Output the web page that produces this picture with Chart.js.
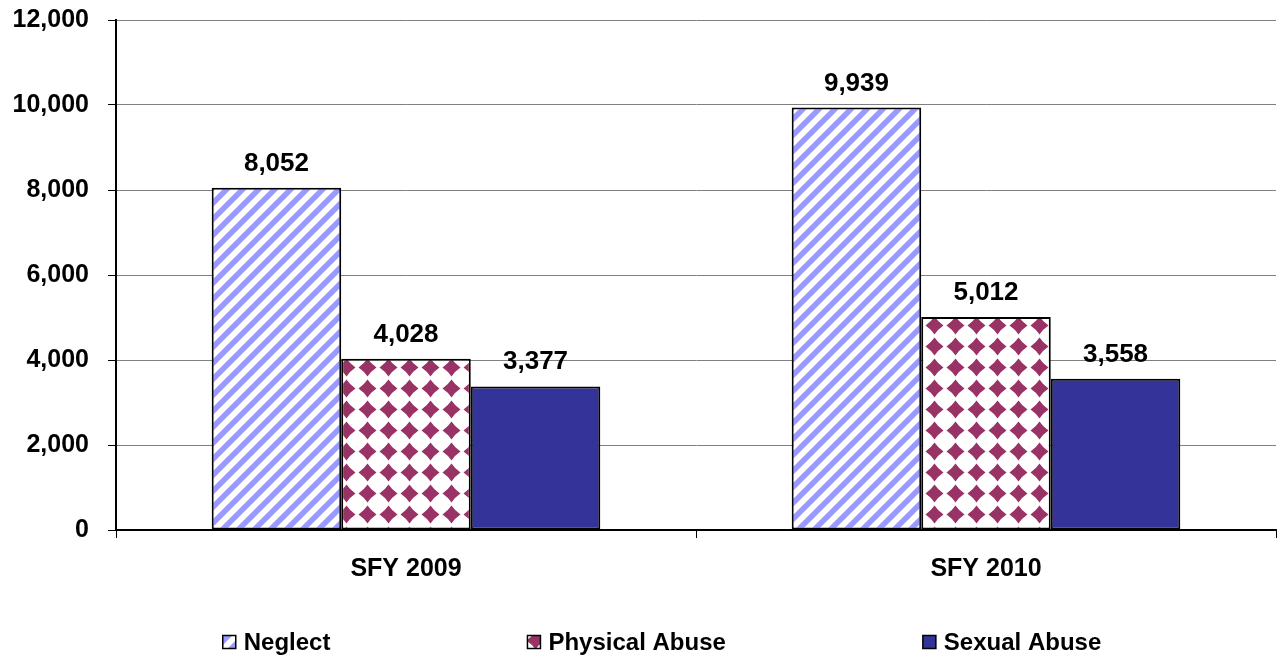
<!DOCTYPE html>
<html>
<head>
<meta charset="utf-8">
<script src="https://cdn.jsdelivr.net/npm/chart.js@4.4.1/dist/chart.umd.min.js"></script>
<style>
  html, body { margin: 0; padding: 0; background: #fff; }
  #wrap { width: 1278px; height: 658px; }
</style>
</head>
<body>
<div id="wrap"><canvas id="chart"></canvas></div>
<script>
const years = ['SFY 2009', 'SFY 2010'];
const neglect = [8052, 9939];
const physicalAbuse = [4028, 5012];
const sexualAbuse = [3377, 3558];
const yTicks = [0, 2000, 4000, 6000, 8000, 10000, 12000];

const FONT = '"Liberation Sans", Arial, sans-serif';

// diagonal blue stripes on white
function stripes() {
  const c = document.createElement('canvas');
  c.width = 16; c.height = 16;
  const g = c.getContext('2d');
  g.fillStyle = '#fff';
  g.fillRect(0, 0, 16, 16);
  g.strokeStyle = '#9999ff';
  g.lineWidth = 5.5;
  g.beginPath();
  g.moveTo(-4, 20); g.lineTo(20, -4);
  g.moveTo(-4, 4); g.lineTo(4, -4);
  g.moveTo(12, 20); g.lineTo(20, 12);
  g.stroke();
  return g.createPattern(c, 'repeat');
}

// maroon diamonds on white
function diamonds() {
  const s = 21, m = s / 2, r = 9, k = 3.6;
  const c = document.createElement('canvas');
  c.width = s; c.height = s;
  const g = c.getContext('2d');
  g.fillStyle = '#fff';
  g.fillRect(0, 0, s, s);
  g.fillStyle = '#993366';
  g.beginPath();
  g.moveTo(m, m - r);
  g.quadraticCurveTo(m + k, m - k, m + r, m);
  g.quadraticCurveTo(m + k, m + k, m, m + r);
  g.quadraticCurveTo(m - k, m + k, m - r, m);
  g.quadraticCurveTo(m - k, m - k, m, m - r);
  g.fill();
  return g.createPattern(c, 'repeat');
}

const valueLabels = {
  id: 'valueLabels',
  afterDatasetsDraw(chart) {
    const ctx = chart.ctx;
    ctx.save();
    ctx.font = 'bold 26px ' + FONT;
    ctx.fillStyle = '#000';
    ctx.textAlign = 'center';
    ctx.textBaseline = 'alphabetic';
    chart.data.datasets.forEach((ds, i) => {
      chart.getDatasetMeta(i).data.forEach((bar, j) => {
        ctx.fillText(ds.data[j].toLocaleString('en-US'), bar.x, bar.y - 17);
      });
    });
    ctx.restore();
  }
};

// legend spread wide like the original
const wideLegend = {
  id: 'wideLegend',
  afterDraw(chart) {
    const ctx = chart.ctx;
    const box = 13, gap = 8, spacing = 197, y = 642;
    ctx.save();
    ctx.font = 'bold 24px ' + FONT;
    const items = chart.data.datasets.map(ds => ({
      ds, w: ctx.measureText(ds.label).width
    }));
    const total = items.reduce((a, it) => a + box + gap + it.w, 0) + spacing * (items.length - 1);
    let x = chart.width / 2 - total / 2 + 23;
    ctx.textBaseline = 'middle';
    items.forEach(it => {
      ctx.fillStyle = it.ds.backgroundColor;
      ctx.fillRect(x, y - box / 2, box, box);
      ctx.strokeStyle = '#000';
      ctx.lineWidth = 1.5;
      ctx.strokeRect(x, y - box / 2, box, box);
      ctx.fillStyle = '#000';
      ctx.fillText(it.ds.label, x + box + gap, y + 1);
      x += box + gap + it.w + spacing;
    });
    ctx.restore();
  }
};

new Chart(document.getElementById('chart'), {
  type: 'bar',
  data: {
    labels: years,
    datasets: [
      { label: 'Neglect', data: neglect, backgroundColor: stripes() },
      { label: 'Physical Abuse', data: physicalAbuse, backgroundColor: diamonds() },
      { label: 'Sexual Abuse', data: sexualAbuse, backgroundColor: '#333399' }
    ]
  },
  options: {
    responsive: true,
    maintainAspectRatio: false,
    animation: false,
    devicePixelRatio: 1,
    layout: { padding: { top: 20, right: 2, bottom: 70, left: 0 } },
    datasets: {
      bar: {
        borderColor: '#000',
        borderWidth: 2,
        borderSkipped: false,
        categoryPercentage: 0.67,
        barPercentage: 1
      }
    },
    plugins: {
      legend: { display: false },
      tooltip: { enabled: false }
    },
    scales: {
      x: {
        grid: { drawOnChartArea: false, tickLength: 8, tickColor: '#000', offset: true },
        border: { color: '#000', width: 2 },
        ticks: { color: '#000', padding: 16, font: { family: FONT, size: 25, weight: 'bold' } },
        afterFit(scale) { scale.height = 58; }
      },
      y: {
        min: 0,
        max: 12000,
        afterBuildTicks(scale) { scale.ticks = yTicks.map(v => ({ value: v })); },
        grid: { color: '#808080', lineWidth: 1, tickLength: 8, tickColor: '#000' },
        border: { color: '#000', width: 2 },
        ticks: {
          color: '#000',
          padding: 19,
          font: { family: FONT, size: 25, weight: 'bold' },
          callback: v => v.toLocaleString('en-US')
        },
        afterFit(scale) {
          scale.width = 116;
          scale.paddingTop = 0;
          scale.paddingBottom = 0;
        }
      }
    }
  },
  plugins: [valueLabels, wideLegend]
});
</script>
</body>
</html>
